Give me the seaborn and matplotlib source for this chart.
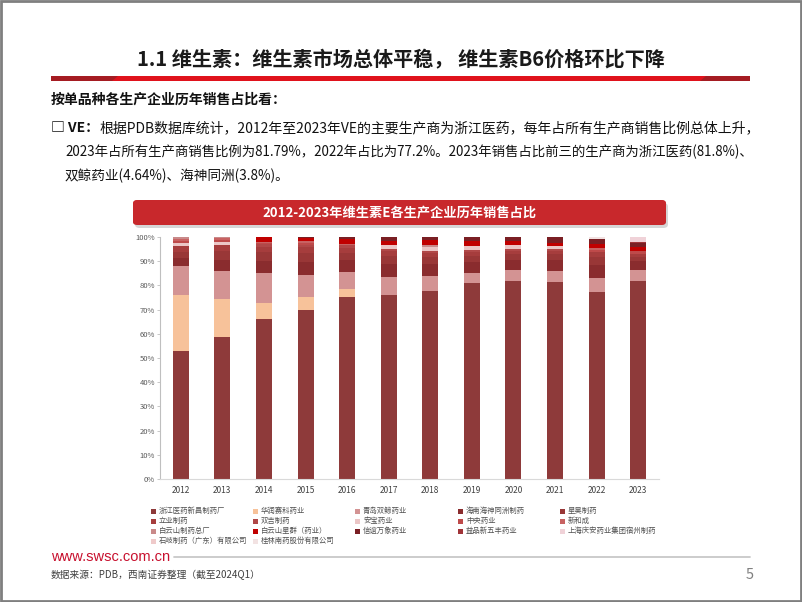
import numpy as np
import pandas as pd
import seaborn as sns
import matplotlib
matplotlib.use("Agg")
import matplotlib.pyplot as plt
from matplotlib.patches import Rectangle, Polygon, FancyBboxPatch
from matplotlib.ticker import FuncFormatter
from matplotlib.colors import LinearSegmentedColormap

# ---------------- data ----------------
years = ["2012", "2013", "2014", "2015", "2016", "2017",
         "2018", "2019", "2020", "2021", "2022", "2023"]

zhejiang   = [53.0, 58.5, 66.1, 69.8, 75.2, 76.2, 77.7, 81.1, 81.8, 81.3, 77.2, 81.8]
huarun     = [23.0, 16.0, 6.5, 5.3, 3.2, 0, 0, 0, 0, 0, 0, 0]
qingdao    = [12.0, 11.6, 12.5, 9.1, 7.1, 7.3, 6.1, 4.1, 4.7, 4.8, 6.0, 4.64]
hainan     = [3.5, 4.5, 5.0, 5.5, 5.0, 5.5, 5.0, 4.5, 4.2, 4.5, 5.2, 3.8]
xinghao    = [2.5, 3.5, 3.5, 3.5, 3.0, 3.2, 2.8, 2.5, 2.3, 2.4, 3.2, 1.6]
liye       = [2.2, 2.5, 2.4, 2.5, 2.0, 2.0, 1.6, 1.5, 1.3, 1.4, 2.0, 1.2]
shuangji   = [0, 0, 1.0, 1.2, 1.0, 1.0, 0.9, 0.8, 0.7, 0.8, 0, 0]
anbao      = [1.5, 1.4, 0, 0, 0, 1.4, 1.8, 1.8, 1.6, 1.1, 0, 0]
zhongyang  = [0.8, 0.8, 0.5, 0.7, 0.4, 0, 0, 0, 0, 0, 1.2, 1.0]
xinhecheng = [0.8, 0.7, 0.5, 0.6, 0.3, 0, 0, 0, 0, 0, 0.7, 0]
baiyunshan = [0.7, 0.5, 0, 0, 0, 0, 0.7, 0, 0, 0, 0, 0]
xingqun    = [0, 0, 2.0, 1.3, 1.9, 1.6, 2.0, 1.9, 1.6, 1.3, 1.7, 1.8]
xinyi      = [0, 0, 0, 0.5, 0.9, 1.8, 1.4, 1.8, 1.8, 2.4, 2.0, 1.5]
yipin      = [0, 0, 0, 0, 0, 0, 0, 0, 0, 0, 0, 0.6]
qingan     = [0, 0, 0, 0, 0, 0, 0, 0, 0, 0, 0, 2.06]
shiqi      = [0, 0, 0, 0, 0, 0, 0, 0, 0, 0, 0, 0]
guilin     = [0, 0, 0, 0, 0, 0, 0, 0, 0, 0, 0.8, 0]

companies = ["浙江医药新昌制药厂", "华润赛科药业", "青岛双鲸药业", "海南海神同洲制药", "星昊制药",
             "立业制药", "双吉制药", "安宝药业", "中央药业", "新和成",
             "白云山制药总厂", "白云山星群（药业）", "信谊万象药业", "益品新五丰药业", "上海庆安药业集团宿州制药",
             "石岐制药（广东）有限公司", "桂林南药股份有限公司"]
series = [zhejiang, huarun, qingdao, hainan, xinghao, liye, shuangji, anbao, zhongyang,
          xinhecheng, baiyunshan, xingqun, xinyi, yipin, qingan, shiqi, guilin]
colors = ["#8E3A3A", "#F7C29A", "#D39393", "#8A2C2E", "#993737", "#A63D3D", "#B04848",
          "#EBC6C6", "#BE4A4A", "#C86262", "#C98A8A", "#C00000", "#7A1F24", "#A03438",
          "#F0D2D8", "#EFCACA", "#F2E2E2"]

# ---------------- figure ----------------
sns.set_style("white")
plt.rcParams["font.family"] = ["Noto Sans CJK SC", "DejaVu Sans"]

W, H = 802, 602
fig = plt.figure(figsize=(W / 100, H / 100), dpi=100)
fig.patch.set_facecolor("white")

def fx(px):
    return px / W

def fy(py):
    return 1 - py / H

# frame
fig.add_artist(Rectangle((0.001, 0.001), 0.998, 0.997, transform=fig.transFigure,
                         fill=False, edgecolor="#7F7F7F", lw=2))

# title
fig.text(fx(401), fy(60), "1.1 维生素：维生素市场总体平稳， 维生素B6价格环比下降",
         ha="center", va="center", fontsize=14.5, fontweight="bold", color="#1a1a1a")

# red rule under title
fig.add_artist(Rectangle((fx(51), fy(81)), fx(750) - fx(51), 5 / H, transform=fig.transFigure,
                         facecolor="#E0121C", edgecolor="none"))
fig.add_artist(Polygon([(fx(51), fy(81)), (fx(112), fy(81)), (fx(118), fy(76)), (fx(51), fy(76))],
                       closed=True, transform=fig.transFigure, facecolor="#A51C22", edgecolor="none"))
fig.add_artist(Polygon([(fx(700), fy(81)), (fx(750), fy(81)), (fx(750), fy(76)), (fx(706), fy(76))],
                       closed=True, transform=fig.transFigure, facecolor="#A51C22", edgecolor="none"))

# body text
fig.text(fx(51), fy(100), "按单品种各生产企业历年销售占比看：", ha="left", va="center",
         fontsize=10, fontweight="bold", color="#111111")
t_bold = fig.text(fx(51), fy(128), "□ VE：", ha="left", va="center",
                  fontsize=10, fontweight="bold", color="#111111")
fig.canvas.draw()
bb = t_bold.get_window_extent()
fig.text(bb.x1 / W, fy(128),
         "根据PDB数据库统计，2012年至2023年VE的主要生产商为浙江医药，每年占所有生产商销售比例总体上升，",
         ha="left", va="center", fontsize=10, color="#111111")
fig.text(fx(65), fy(152),
         "2023年占所有生产商销售比例为81.79%，2022年占比为77.2%。2023年销售占比前三的生产商为浙江医药(81.8%)、",
         ha="left", va="center", fontsize=9.65, color="#111111")
fig.text(fx(65), fy(176), "双鲸药业(4.64%)、海神同洲(3.8%)。",
         ha="left", va="center", fontsize=9.8, color="#111111")

# chart banner
fig.add_artist(FancyBboxPatch((fx(135), fy(228)), fx(668) - fx(135), 25 / H,
                              boxstyle="round,pad=0,rounding_size=0.006",
                              transform=fig.transFigure, facecolor="#BBBBBB",
                              edgecolor="none", alpha=0.6))
banner = FancyBboxPatch((fx(133), fy(225)), fx(666) - fx(133), 25 / H,
                        boxstyle="round,pad=0,rounding_size=0.006",
                        transform=fig.transFigure, facecolor="#C8282C", edgecolor="none")
fig.add_artist(banner)
bax = fig.add_axes([fx(133), fy(225), fx(666) - fx(133), 25 / H])
bax.set_axis_off()
grad = np.linspace(0, 1, 50).reshape(-1, 1)
cmap = LinearSegmentedColormap.from_list("b", ["#E04848", "#B31C20"])
im = bax.imshow(grad, aspect="auto", cmap=cmap, extent=[0, 1, 0, 1], origin="upper")
bax.set_xlim(0, 1)
bax.set_ylim(0, 1)
im.set_clip_path(banner)
fig.text(fx(400), fy(212), "2012-2023年维生素E各生产企业历年销售占比", ha="center", va="center",
         fontsize=9.5, fontweight="bold", color="white")

# ---------------- stacked bars ----------------
ax = fig.add_axes([fx(160), fy(479), fx(659) - fx(160), (479 - 237) / H])
cum = np.cumsum(np.array(series, dtype=float), axis=0)
for i in range(len(companies) - 1, -1, -1):
    df_i = pd.DataFrame({"year": years, "top": cum[i]})
    sns.barplot(data=df_i, x="year", y="top", order=years, color=colors[i],
                saturation=1, width=0.385, errorbar=None, ax=ax, linewidth=0)

ax.set_xlim(-0.5, 11.5)
ax.set_ylim(0, 100)
ax.set_yticks(np.arange(0, 101, 10))
ax.yaxis.set_major_formatter(FuncFormatter(lambda v, p: f"{int(v)}%"))
ax.set_xlabel("")
ax.set_ylabel("")
ax.tick_params(axis="y", labelsize=5.5, labelcolor="#595959", length=2, width=0.6,
               color="#BFBFBF", pad=1.5, left=True)
ax.tick_params(axis="x", labelsize=6, labelcolor="#404040", length=0, pad=5)
for s in ["top", "right"]:
    ax.spines[s].set_visible(False)
ax.spines["left"].set_color("#BFBFBF")
ax.spines["left"].set_linewidth(0.8)
ax.spines["bottom"].set_color("#D9D9D9")
ax.spines["bottom"].set_linewidth(0.8)
ax.set_facecolor("none")

# ---------------- legend (5 columns, row-major) ----------------
col_x = [153, 255, 357, 460, 562]
row_y = [511, 521, 531, 541]
for k, (name, c) in enumerate(zip(companies, colors)):
    r, cidx = divmod(k, 5)
    x0, y0 = col_x[cidx], row_y[r]
    fig.add_artist(Rectangle((fx(x0 - 2.5), fy(y0 + 2.5)), 5 / W, 5 / H,
                             transform=fig.transFigure, facecolor=c, edgecolor="none"))
    fig.text(fx(x0 + 6), fy(y0), name, ha="left", va="center", fontsize=5.3, color="#505050")

# ---------------- footer ----------------
fig.text(fx(51), fy(557), "www.swsc.com.cn", ha="left", va="center", fontsize=10.5,
         color="#C8102E", family=["Liberation Sans", "DejaVu Sans"])
fig.add_artist(plt.Line2D([fx(174), fx(750)], [fy(557), fy(557)], transform=fig.transFigure,
                          color="#C8C8C8", lw=1.3))
fig.text(fx(51), fy(575), "数据来源：PDB，西南证券整理（截至2024Q1）", ha="left", va="center",
         fontsize=7, color="#404040")
fig.text(fx(750), fy(575), "5", ha="center", va="center", fontsize=10.5, color="#808080")

fig.savefig("out.png", dpi=100, facecolor="white")
